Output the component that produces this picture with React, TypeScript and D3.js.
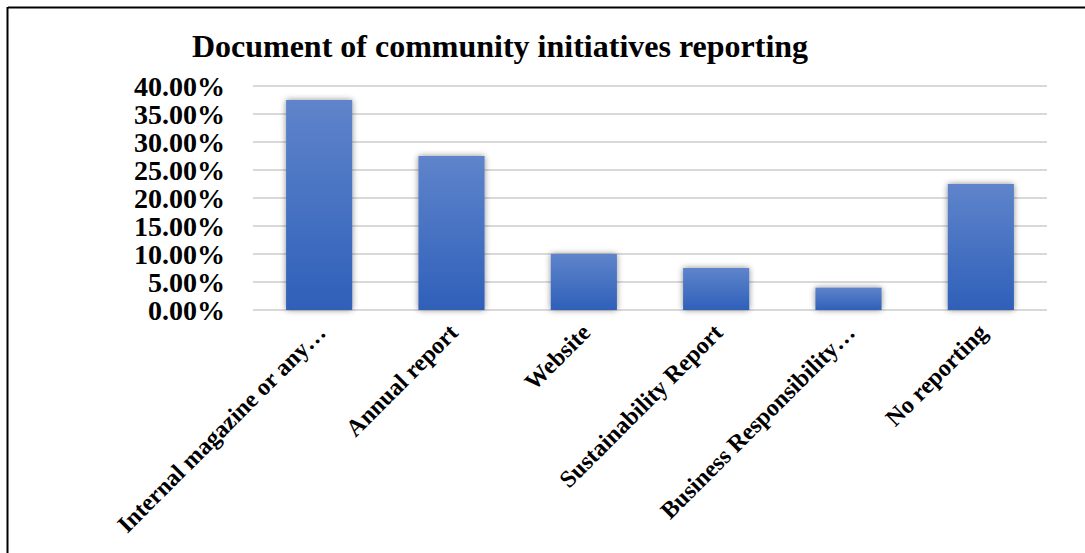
import React from "react";
import * as d3 from "d3";

const categories = [
  "Internal magazine or any…",
  "Annual report",
  "Website",
  "Sustainability Report",
  "Business Responsibility…",
  "No reporting",
];
const values = [0.375, 0.275, 0.1, 0.075, 0.04, 0.225];
const yTicks = [0, 0.05, 0.1, 0.15, 0.2, 0.25, 0.3, 0.35, 0.4];
const title = "Document of community initiatives reporting";

const W = 1085;
const H = 553;
const plotLeft = 253;
const plotRight = 1047;
const plotTop = 86;
const plotBottom = 310;
const font = "'Liberation Serif', 'Times New Roman', serif";

export default function App() {
  const x = d3
    .scaleBand<string>()
    .domain(categories)
    .range([plotLeft, plotRight])
    .paddingInner(0.5)
    .paddingOuter(0.25);
  const y = d3.scaleLinear().domain([0, 0.4]).range([plotBottom, plotTop]);
  const fmt = d3.format(".2%");

  return (
    <svg
      width={W}
      height={H}
      style={{ position: "absolute", left: 0, top: 0, background: "#fff" }}
      fontFamily={font}
    >
      <defs>
        <linearGradient id="barGrad" x1="0" y1="0" x2="0" y2="1">
          <stop offset="0%" stopColor="#5f84cb" />
          <stop offset="100%" stopColor="#2f60b9" />
        </linearGradient>
        <filter id="shadow" x="-30%" y="-30%" width="160%" height="160%">
          <feGaussianBlur in="SourceAlpha" stdDeviation="3" />
          <feOffset dx="0" dy="0" result="blur" />
          <feComponentTransfer>
            <feFuncA type="linear" slope="0.45" />
          </feComponentTransfer>
          <feMerge>
            <feMergeNode />
            <feMergeNode in="SourceGraphic" />
          </feMerge>
        </filter>
      </defs>
      <rect x={0} y={0} width={W} height={H} fill="#fff" />
      {/* frame */}
      <line x1={8} y1={7.5} x2={W} y2={7.5} stroke="#000" strokeWidth={2} />
      <line x1={7.5} y1={7} x2={7.5} y2={H} stroke="#000" strokeWidth={2} />

      <text
        x={500}
        y={57}
        textAnchor="middle"
        fontSize={32}
        fontWeight="bold"
        fill="#000"
      >
        {title}
      </text>

      {yTicks.map((t) => (
        <g key={t}>
          <line
            x1={plotLeft}
            x2={plotRight}
            y1={y(t)}
            y2={y(t)}
            stroke="#d9d9d9"
            strokeWidth={2}
          />
          <text
            x={225}
            y={y(t) + 9.5}
            textAnchor="end"
            fontSize={28}
            fontWeight="bold"
            fill="#000"
          >
            {fmt(t)}
          </text>
        </g>
      ))}

      {categories.map((c, i) => (
        <rect
          key={c}
          x={x(c)}
          y={y(values[i])}
          width={x.bandwidth()}
          height={y(0) - y(values[i])}
          fill="url(#barGrad)"
          filter="url(#shadow)"
        />
      ))}

      {categories.map((c) => {
        const cx = (x(c) as number) + x.bandwidth() / 2;
        return (
          <text
            key={c}
            transform={`translate(${cx + 8},${plotBottom + 24}) rotate(-45)`}
            textAnchor="end"
            fontSize={24}
            fontWeight="bold"
            fill="#000"
          >
            {c}
          </text>
        );
      })}
    </svg>
  );
}
